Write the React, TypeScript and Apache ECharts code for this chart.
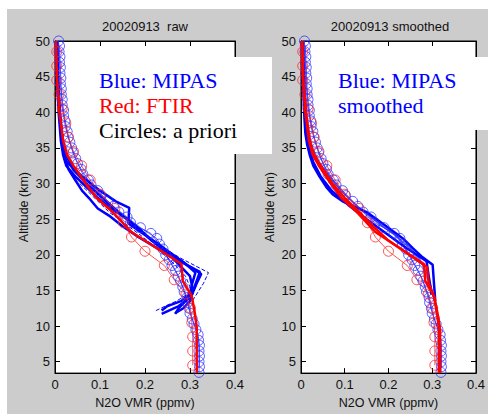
import React, { useEffect, useRef } from "react";
import * as echarts from "echarts";

// ---------- tick labels ----------
const yTicks = [5, 10, 15, 20, 25, 30, 35, 40, 45, 50];
const xTickLabels = ["0", "0.1", "0.2", "0.3", "0.4"];

// ---------- FTIR a priori (red circles) ----------
const ftirAprioriAlt = [48.5, 46.5, 44.5, 42.5, 40.5, 38.5, 36.5, 34.5, 32.5, 30.5, 28.5, 26.5, 24.5, 22.5, 20.5, 18.5, 16.5, 14.5, 12.5, 10.5, 8.5, 6.5, 4.5];
const ftirAprioriVmr = [0.004, 0.004, 0.004, 0.009, 0.016, 0.024, 0.030, 0.041, 0.059, 0.078, 0.100, 0.133, 0.152, 0.170, 0.200, 0.243, 0.265, 0.291, 0.301, 0.304, 0.306, 0.306, 0.306];

// ---------- MIPAS a priori (blue circles) ----------
const mipasAprioriAAlt = [50, 48.5, 47, 45.5, 44, 42.5, 41, 39.5, 38, 36.5, 35, 33.5, 32, 30.5, 29, 27.5, 26, 24.5, 23, 21.5, 20, 18.5, 17, 15.5, 14, 12.5, 11, 9.5, 8, 6.5, 5, 3.5];
const mipasAprioriAVmr = [0.008, 0.009, 0.010, 0.011, 0.012, 0.014, 0.016, 0.019, 0.023, 0.029, 0.037, 0.046, 0.058, 0.074, 0.095, 0.118, 0.142, 0.168, 0.213, 0.232, 0.246, 0.260, 0.274, 0.284, 0.293, 0.298, 0.305, 0.313, 0.319, 0.320, 0.320, 0.320];
const mipasAprioriBAlt = [49.3, 47.8, 46.3, 44.8, 43.3, 41.8, 40.3, 38.8, 37.3, 35.8, 34.3, 32.8, 31.3, 29.8, 28.3, 26.8, 25.3, 23.8, 22.3, 20.8, 19.3, 17.8, 16.3, 14.8, 13.3, 11.8, 10.3, 8.8, 7.3, 5.8, 4.3];
const mipasAprioriBVmr = [0.010, 0.011, 0.012, 0.013, 0.014, 0.016, 0.019, 0.022, 0.027, 0.033, 0.040, 0.050, 0.062, 0.080, 0.102, 0.130, 0.160, 0.190, 0.226, 0.240, 0.254, 0.268, 0.279, 0.287, 0.294, 0.300, 0.309, 0.318, 0.321, 0.321, 0.321];

// ---------- MIPAS raw retrievals (left panel) ----------
const raw1Alt = [50, 47, 44, 41, 38, 35.5, 33.5, 32, 30.5, 29, 28, 26.5, 25.5, 24, 22.5, 21, 20, 19, 17.6, 15.5, 14, 12.8, 11.7];
const raw1Vmr = [0.003, 0.004, 0.006, 0.009, 0.012, 0.016, 0.022, 0.030, 0.045, 0.060, 0.075, 0.095, 0.120, 0.150, 0.185, 0.225, 0.250, 0.280, 0.322, 0.310, 0.300, 0.275, 0.237];
const raw2Alt = [50, 45, 40, 36, 34, 33, 31, 29, 27.5, 26.6, 24.4, 23, 21.5, 20, 18.5, 17.3, 16, 14.5, 13.5, 12.5, 11.7];
const raw2Vmr = [0.004, 0.006, 0.010, 0.016, 0.020, 0.026, 0.060, 0.100, 0.135, 0.165, 0.163, 0.195, 0.230, 0.262, 0.295, 0.325, 0.315, 0.305, 0.290, 0.275, 0.267];
const raw3Alt = [50, 45, 40, 36, 34, 32.5, 31, 29.5, 28, 26.5, 25, 23.5, 22, 20.5, 19, 18, 17, 15.5, 14.5, 13.5, 12.5, 11.8];
const raw3Vmr = [0.002, 0.004, 0.008, 0.013, 0.018, 0.025, 0.045, 0.070, 0.095, 0.125, 0.160, 0.190, 0.215, 0.245, 0.270, 0.285, 0.300, 0.305, 0.305, 0.300, 0.285, 0.267];
const raw4Alt = [50, 45, 40, 36, 34, 32, 30, 28, 26, 24, 22, 20.5, 19, 17.5, 16, 14.5, 13.5, 12.8, 12.2];
const raw4Vmr = [0.005, 0.007, 0.011, 0.017, 0.024, 0.040, 0.070, 0.105, 0.140, 0.180, 0.215, 0.250, 0.285, 0.312, 0.305, 0.300, 0.280, 0.250, 0.237];
const rawErrHiAlt = [30, 26, 23, 21, 19.5, 17.5, 16, 14.5, 13.5];
const rawErrHiVmr = [0.070, 0.140, 0.200, 0.240, 0.280, 0.341, 0.330, 0.315, 0.305];
const rawErrLoAlt = [30, 26, 23, 21, 19, 17, 15.5, 14.5, 13.5, 12.8, 12.1];
const rawErrLoVmr = [0.055, 0.120, 0.185, 0.225, 0.260, 0.290, 0.300, 0.295, 0.270, 0.245, 0.222];

// ---------- MIPAS smoothed retrievals (right panel) ----------
const sm1Alt = [50, 46, 42, 39, 37, 35.5, 34, 32.5, 31, 29.5, 28.5, 27.5, 26, 24, 22.3, 20.9, 19.8, 18.6, 16, 13.5];
const sm1Vmr = [0.002, 0.004, 0.006, 0.008, 0.010, 0.014, 0.020, 0.028, 0.042, 0.058, 0.072, 0.095, 0.150, 0.195, 0.233, 0.256, 0.275, 0.301, 0.304, 0.307];
const sm2Alt = [50, 46, 42, 39, 37, 35, 33, 31, 29, 27, 25, 23, 21, 19.1, 17, 15.5, 14.4];
const sm2Vmr = [0.004, 0.006, 0.008, 0.011, 0.014, 0.019, 0.028, 0.045, 0.070, 0.108, 0.150, 0.195, 0.240, 0.287, 0.292, 0.296, 0.298];
const sm3Alt = [50, 46, 42, 39, 37, 35, 33, 31, 29, 27, 25, 23, 21, 19.5, 18, 16, 14, 13.5];
const sm3Vmr = [0.006, 0.008, 0.011, 0.014, 0.018, 0.026, 0.041, 0.065, 0.092, 0.125, 0.165, 0.210, 0.248, 0.270, 0.283, 0.295, 0.303, 0.305];

// ---------- FTIR retrievals ----------
const ftirRawAlt = [50, 45, 40, 36, 34, 32.5, 30, 28, 26, 24, 23.2, 18.7, 16.3, 14.2, 11.7, 9.8, 3.4];
const ftirRawVmr = [0.002, 0.004, 0.010, 0.018, 0.027, 0.041, 0.068, 0.092, 0.128, 0.158, 0.170, 0.281, 0.284, 0.304, 0.311, 0.315, 0.315];
const ftirSmAlt = [50, 45, 40, 36, 34, 32.5, 30, 28, 26, 24, 22, 18.3, 16, 14, 11.5, 9.5, 3.4];
const ftirSmVmr = [0.003, 0.005, 0.011, 0.020, 0.030, 0.045, 0.072, 0.100, 0.133, 0.165, 0.200, 0.288, 0.292, 0.305, 0.313, 0.318, 0.318];

const zip = (v: number[], a: number[]) => v.map((x, i) => [x, a[i]]);

const FONT = "Liberation Sans";
const SERIF = "Liberation Serif";
const BLUE = "#0000ff";
const LBLUE = "rgba(40,40,255,0.75)";
const RED = "#ff0000";
const LRED = "rgba(255,40,40,0.8)";

export default function App() {
  const ref = useRef<HTMLDivElement>(null);
  useEffect(() => {
    if (!ref.current) return;
    const chart = echarts.init(ref.current, null, { renderer: "svg" });

    const grids = [
      { left: 55, top: 41, width: 180, height: 335 },
      { left: 301, top: 41, width: 180, height: 335 },
    ].map((g) => ({ ...g, show: true, backgroundColor: "#fff", borderColor: "#000", borderWidth: 1, containLabel: false }));

    const axisLine = { show: true, onZero: false, lineStyle: { color: "#000", width: 1 } };
    const tick = { show: true, inside: true, length: 5, lineStyle: { color: "#000", width: 1 } };
    const mkX = (gi: number, pos: string, labels: boolean) => ({
      type: "value", gridIndex: gi, position: pos, min: 0, max: 0.4, interval: 0.1,
      axisLine, axisTick: tick, splitLine: { show: false },
      axisLabel: {
        show: labels, margin: 5, color: "#111", fontFamily: FONT, fontSize: 13,
        formatter: (v: number) => xTickLabels[Math.round(v * 10)] ?? "",
      },
      name: labels ? "N2O VMR (ppmv)" : "", nameLocation: "middle", nameGap: 16,
      nameTextStyle: { color: "#111", fontFamily: FONT, fontSize: 12.5 },
    });
    const mkY = (gi: number, pos: string, labels: boolean) => ({
      type: "value", gridIndex: gi, position: pos, min: 3.4, max: 50,
      axisLine, splitLine: { show: false },
      axisTick: { ...tick, customValues: yTicks },
      axisLabel: { show: labels, margin: 5, color: "#111", fontFamily: FONT, fontSize: 13, customValues: yTicks },
      name: labels ? "Altitude (km)" : "", nameLocation: "middle", nameGap: 25,
      nameTextStyle: { color: "#111", fontFamily: FONT, fontSize: 12.5 },
    });

    const line = (gi: number, v: number[], a: number[], color: string, width: number, opts: any = {}) => ({
      type: "line", xAxisIndex: gi, yAxisIndex: gi, data: zip(v, a),
      showSymbol: false, symbol: "none", lineStyle: { color, width, type: opts.dash ? "dashed" : "solid" },
      silent: true, z: opts.z ?? 3,
    });
    const circ = (gi: number, v: number[], a: number[], color: string) => ({
      type: "line", xAxisIndex: gi, yAxisIndex: gi, data: zip(v, a),
      symbol: "circle", symbolSize: 10, showSymbol: true,
      lineStyle: { color, width: 1 },
      itemStyle: { color: "rgba(0,0,0,0)", borderColor: color, borderWidth: 1 },
      silent: true, z: 3,
    });

    const series: any[] = [];
    for (const gi of [0, 1]) {
      series.push(circ(gi, mipasAprioriAVmr, mipasAprioriAAlt, LBLUE));
      series.push(circ(gi, mipasAprioriBVmr, mipasAprioriBAlt, LBLUE));
    }
    // left raw MIPAS
    series.push(line(0, rawErrHiVmr, rawErrHiAlt, BLUE, 1, { dash: true }));
    series.push(line(0, rawErrLoVmr, rawErrLoAlt, BLUE, 1, { dash: true }));
    series.push(line(0, raw1Vmr, raw1Alt, BLUE, 2.5));
    series.push(line(0, raw2Vmr, raw2Alt, BLUE, 2.5));
    series.push(line(0, raw3Vmr, raw3Alt, BLUE, 2.5));
    series.push(line(0, raw4Vmr, raw4Alt, BLUE, 2.5));
    // right smoothed MIPAS
    series.push(line(1, sm3Vmr, sm3Alt, LBLUE, 1.8));
    series.push(line(1, sm1Vmr, sm1Alt, BLUE, 2.5));
    series.push(line(1, sm2Vmr, sm2Alt, BLUE, 2.5));
    // FTIR
    for (const gi of [0, 1]) series.push(circ(gi, ftirAprioriVmr, ftirAprioriAlt, LRED));
    series.push(line(0, ftirRawVmr, ftirRawAlt, RED, 2.5, { z: 4 }));
    series.push(line(1, ftirRawVmr, ftirRawAlt, RED, 2.5, { z: 4 }));
    series.push(line(1, ftirSmVmr, ftirSmAlt, RED, 2.5, { z: 4 }));

    const txt = (x: number, y: number, text: string, fill: string, family: string, size: number, align = "left") => ({
      type: "text", x, y, z: 101,
      style: { text, fill, fontFamily: family, fontSize: size, align, verticalAlign: "middle" },
    });

    chart.setOption({
      animation: false,
      backgroundColor: "#ffffff",
      grid: grids,
      xAxis: [mkX(0, "bottom", true), mkX(1, "bottom", true), mkX(0, "top", false), mkX(1, "top", false)],
      yAxis: [mkY(0, "left", true), mkY(1, "left", true), mkY(0, "right", false), mkY(1, "right", false)],
      series,
      graphic: [
        { type: "rect", z: -10, shape: { x: 7, y: 9, width: 481, height: 405 }, style: { fill: "#cccccc" } },
        { type: "rect", z: 100, shape: { x: 92, y: 57, width: 180, height: 97 }, style: { fill: "#ffffff" } },
        { type: "rect", z: 100, shape: { x: 330, y: 57, width: 158, height: 73 }, style: { fill: "#ffffff" } },
        txt(145, 26, "20020913  raw", "#111", FONT, 13, "center"),
        txt(390, 26, "20020913 smoothed", "#111", FONT, 13, "center"),
        txt(99, 80, "Blue: MIPAS", "#0000ff", SERIF, 22),
        txt(99, 105, "Red: FTIR", "#ff0000", SERIF, 22),
        txt(99, 130, "Circles: a priori", "#000000", SERIF, 22),
        txt(338, 80, "Blue: MIPAS", "#0000ff", SERIF, 22),
        txt(338, 105, "smoothed", "#0000ff", SERIF, 22),
      ],
    });
    return () => chart.dispose();
  }, []);
  return <div ref={ref} style={{ position: "fixed", left: 0, top: 0, width: 488, height: 414 }} />;
}
